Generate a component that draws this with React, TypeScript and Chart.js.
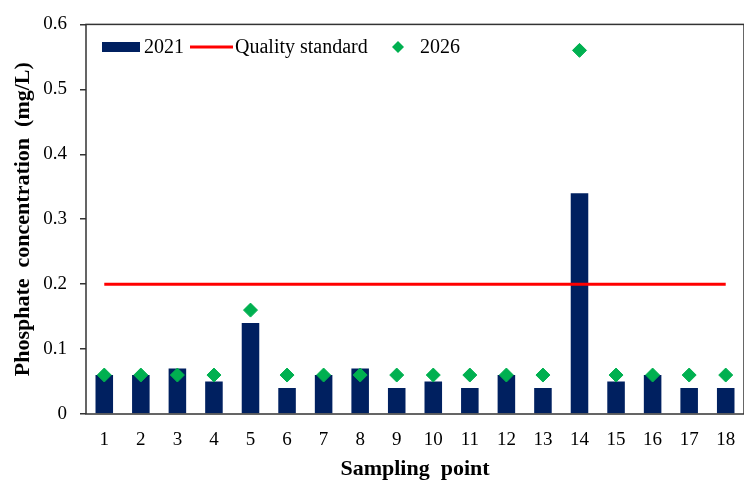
import React, { useEffect, useRef } from "react";
import { Chart, registerables } from "chart.js";

Chart.register(...registerables);

const categories = ["1", "2", "3", "4", "5", "6", "7", "8", "9", "10", "11", "12", "13", "14", "15", "16", "17", "18"];
const values2021 = [0.06, 0.06, 0.07, 0.05, 0.14, 0.04, 0.06, 0.07, 0.04, 0.05, 0.04, 0.06, 0.04, 0.34, 0.05, 0.06, 0.04, 0.04];
const values2026 = [0.06, 0.06, 0.06, 0.06, 0.16, 0.06, 0.06, 0.06, 0.06, 0.06, 0.06, 0.06, 0.06, 0.56, 0.06, 0.06, 0.06, 0.06];
const qualityStandard = [0.2, 0.2, 0.2, 0.2, 0.2, 0.2, 0.2, 0.2, 0.2, 0.2, 0.2, 0.2, 0.2, 0.2, 0.2, 0.2, 0.2, 0.2];
const yTickLabels = ["0", "0.1", "0.2", "0.3", "0.4", "0.5", "0.6"];

const FONT = '"Liberation Serif", "Times New Roman", serif';
const NAVY = "#002060";
const RED = "#FF0000";
const GREEN = "#00B050";
const AXIS = "#333333";

const framePlugin = {
  id: "frame",
  afterDraw(chart: any) {
    const { ctx, chartArea } = chart;
    ctx.save();
    ctx.strokeStyle = AXIS;
    ctx.lineWidth = 1.5;
    ctx.strokeRect(chartArea.left, chartArea.top, chartArea.right - chartArea.left, chartArea.bottom - chartArea.top);
    ctx.restore();
  },
};

const legendPlugin = {
  id: "insideLegend",
  afterDraw(chart: any) {
    const { ctx } = chart;
    const cy = 47;
    ctx.save();
    ctx.font = `20px ${FONT}`;
    ctx.textBaseline = "middle";
    ctx.textAlign = "left";
    // 2021 box
    ctx.fillStyle = NAVY;
    ctx.fillRect(102, 42, 38, 10);
    ctx.fillStyle = "#000";
    ctx.fillText("2021", 144, cy + 1);
    // quality standard line
    ctx.strokeStyle = RED;
    ctx.lineWidth = 3;
    ctx.beginPath();
    ctx.moveTo(190, cy);
    ctx.lineTo(233, cy);
    ctx.stroke();
    ctx.fillText("Quality standard", 235, cy + 1);
    // 2026 diamond
    ctx.fillStyle = GREEN;
    ctx.beginPath();
    ctx.moveTo(398, cy - 6);
    ctx.lineTo(404, cy);
    ctx.lineTo(398, cy + 6);
    ctx.lineTo(392, cy);
    ctx.closePath();
    ctx.fill();
    ctx.fillStyle = "#000";
    ctx.fillText("2026", 420, cy + 1);
    ctx.restore();
  },
};

export default function App() {
  const canvasRef = useRef<HTMLCanvasElement | null>(null);

  useEffect(() => {
    if (!canvasRef.current) return;
    const chart = new Chart(canvasRef.current, {
      type: "bar",
      data: {
        labels: categories,
        datasets: [
          {
            type: "bar",
            label: "2021",
            data: values2021,
            backgroundColor: NAVY,
            borderWidth: 0,
            barPercentage: 0.48,
            categoryPercentage: 1,
            order: 3,
          },
          {
            type: "line",
            label: "Quality standard",
            data: qualityStandard,
            borderColor: RED,
            borderWidth: 3,
            pointRadius: 0,
            fill: false,
            order: 2,
          },
          {
            type: "line",
            label: "2026",
            data: values2026,
            showLine: false,
            pointStyle: "rectRot",
            pointRadius: 7,
            pointBorderWidth: 1,
            pointBackgroundColor: GREEN,
            pointBorderColor: GREEN,
            order: 1,
          },
        ] as any,
      },
      options: {
        animation: false,
        responsive: false,
        maintainAspectRatio: false,
        layout: { padding: { top: 19, right: 4, left: 0, bottom: 0 } },
        plugins: {
          legend: { display: false },
          tooltip: { enabled: false },
        },
        scales: {
          x: {
            grid: { display: false, drawTicks: false },
            border: { display: false },
            ticks: {
              color: "#000",
              font: { family: FONT, size: 19 },
              padding: 15,
              maxRotation: 0,
              autoSkip: false,
            },
            title: {
              display: true,
              text: "Sampling  point",
              color: "#000",
              font: { family: FONT, size: 22, weight: "bold" },
              padding: { top: 0, bottom: 3 },
            },
            afterFit: (scale: any) => {
              scale.height = 72;
            },
          },
          y: {
            min: 0,
            max: 0.6,
            grid: {
              display: true,
              drawOnChartArea: false,
              drawTicks: true,
              tickLength: 6,
              color: AXIS,
              lineWidth: 1.5,
            },
            border: { display: false },
            ticks: {
              stepSize: 0.1,
              color: "#000",
              font: { family: FONT, size: 19 },
              padding: 13,
              callback: (_v: any, i: number) => yTickLabels[i],
            },
            title: {
              display: true,
              text: "Phosphate  concentration  (mg/L)",
              color: "#000",
              font: { family: FONT, size: 22, weight: "bold" },
              padding: { top: 10, bottom: 0 },
            },
            afterFit: (scale: any) => {
              scale.width = 86;
            },
          },
        },
      } as any,
      plugins: [framePlugin, legendPlugin],
    });
    return () => chart.destroy();
  }, []);

  return (
    <div style={{ position: "fixed", left: 0, top: 0, width: 744, height: 486, overflow: "hidden", background: "#fff" }}>
      <canvas ref={canvasRef} width={752} height={486} style={{ display: "block", width: 752, height: 486 }} />
    </div>
  );
}
